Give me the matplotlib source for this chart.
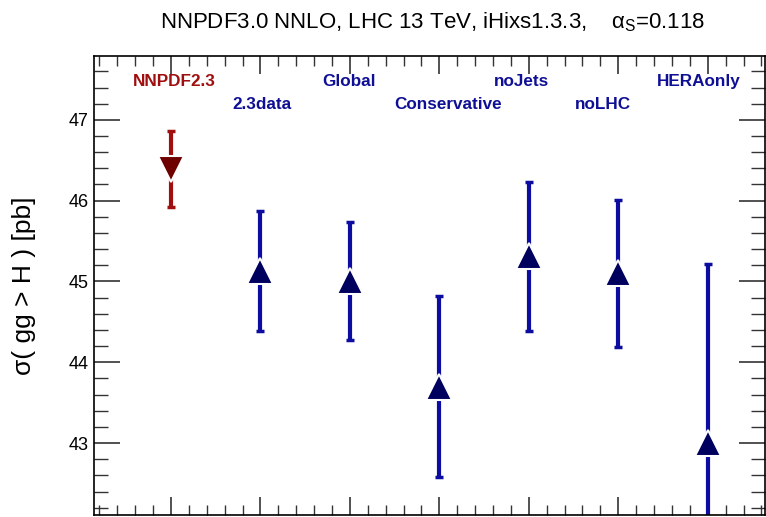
import numpy as np
import matplotlib.pyplot as plt
from matplotlib.ticker import MultipleLocator, NullFormatter

plt.rcParams['font.family'] = ['Liberation Sans', 'DejaVu Sans']
plt.rcParams['mathtext.fontset'] = 'custom'
plt.rcParams['mathtext.rm'] = 'Liberation Sans'
plt.rcParams['mathtext.it'] = 'Liberation Sans'

# cross sections in pb
labels = ["NNPDF2.3", "2.3data", "Global", "Conservative", "noJets", "noLHC", "HERAonly"]
xpos = np.array([1, 2, 3, 4, 5, 6, 7])
sigma = np.array([46.39, 45.13, 45.00, 43.70, 45.31, 45.10, 43.00])
err = np.array([0.47, 0.74, 0.73, 1.12, 0.92, 0.91, 2.22])
label_x = [1.04, 2.02, 2.99, 4.10, 4.92, 5.83, 6.90]
label_y = [47.47, 47.19, 47.47, 47.19, 47.47, 47.19, 47.47]

red_bar, red_mk = "#a00f0f", "#6e0000"
blue_bar, blue_mk = "#0c0ca0", "#00005e"

fig = plt.figure(figsize=(7.66, 5.17), dpi=100)
ax = fig.add_axes([94/766, 2/517, 671/766, 459/517])

for i in range(len(xpos)):
    if i == 0:
        cb, cm, mk = red_bar, red_mk, 'v'
    else:
        cb, cm, mk = blue_bar, blue_mk, '^'
    ax.errorbar(xpos[i], sigma[i], yerr=err[i], fmt='none', ecolor=cb,
                elinewidth=3, capsize=3, capthick=2.5, zorder=2)
    ax.plot(xpos[i], sigma[i], marker=mk, color=cm, markersize=19,
            markeredgecolor='white', markeredgewidth=1.5, zorder=3, clip_on=False)
    ax.text(label_x[i], label_y[i], labels[i], color=cb if i == 0 else "#0f0f96",
            fontsize=12.3, fontweight='bold', ha='center', va='center')

ax.set_xlim(0.14, 7.64)
ax.set_ylim(42.11, 47.79)

ax.xaxis.set_major_locator(MultipleLocator(1))
ax.xaxis.set_minor_locator(MultipleLocator(0.2))
ax.xaxis.set_major_formatter(NullFormatter())
ax.yaxis.set_major_locator(MultipleLocator(1))
ax.yaxis.set_minor_locator(MultipleLocator(0.2))
ax.tick_params(which='both', direction='in', top=True, right=True, color='#333333')
ax.tick_params(axis='y', which='major', length=19, width=1.2, labelsize=13, pad=4)
ax.tick_params(axis='y', which='minor', length=10, width=1)
ax.tick_params(axis='x', which='major', length=13, width=1.2)
ax.tick_params(axis='x', which='minor', length=7, width=1)
for s in ax.spines.values():
    s.set_linewidth(1.2)

ax.set_ylabel("σ( gg > H ) [pb]", fontsize=19)
ax.yaxis.set_label_coords(-0.087, 0.5)
fig.text(0.564, 0.957, r"NNPDF3.0 NNLO, LHC 13 TeV, iHixs1.3.3,    $\alpha_S$=0.118",
         fontsize=16, ha='center', va='center')

fig.savefig("out.png", dpi=100)
